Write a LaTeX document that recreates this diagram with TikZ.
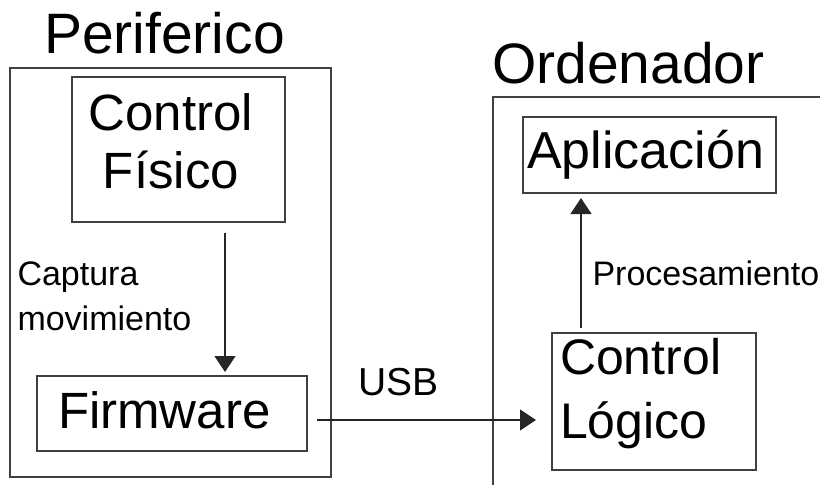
\documentclass[tikz,border=0pt]{standalone}
\usepackage{fontspec}
\setmainfont{Liberation Sans}
\usetikzlibrary{arrows.meta,calc}
\begin{document}
\begin{tikzpicture}[x=1pt,y=-1pt,
  frame/.style={draw=black!75,line width=1.1pt,inner sep=0pt,outer sep=0pt},
  lbl/.style={inner sep=0pt,outer sep=0pt,anchor=base west},
  title/.style={lbl,font=\fontsize{57}{62}\selectfont},
  big/.style={font=\fontsize{51}{58}\selectfont},
  flow/.style={draw=black!85,line width=1.1pt,-{Triangle[length=16pt,width=21pt]}}]
\useasboundingbox (0,0) rectangle (820,485);

% outer containers
\node[frame,minimum width=321,minimum height=409] (peri) at (170.5,272.5) {};
\node[frame,minimum width=357,minimum height=413,anchor=north west] (orde) at (493,97) {};

% inner blocks
\node[frame,minimum width=213,minimum height=145] (cf) at (178.5,149.5) {};
\node[frame,minimum width=270,minimum height=75] (fw) at (172,413.5) {};
\node[frame,minimum width=253,minimum height=76] (ap) at (649.5,155) {};
\node[frame,minimum width=204,minimum height=137] (cl) at (654,401.5) {};

% titles
\node[title] (tperi) at (44,53) {Periferico};
\node[title] (tord) at (492,83) {Ordenador};

% block texts (multi-line nodes sit on the baseline of their last line)
\node[big,inner sep=0pt,align=center,anchor=base] (tcf) at (171,188) {Control\\Físico};
\node[lbl,big] (tfw) at (58,428) {Firmware};
\node[lbl,font=\fontsize{52}{58}\selectfont] (tap) at (527,168) {Aplicación};
\node[lbl,font=\fontsize{50}{64}\selectfont,align=left] (tcl) at (560,438) {Control\\Lógico};

% connectors
\draw[flow] ([xshift=46.5pt,yshift=-11pt]cf.south) -- ([xshift=53pt,yshift=4pt]fw.north);
\draw[flow,shorten >=16pt] ([xshift=10pt,yshift=-6.5pt]fw.east) coordinate (u0) -- (u0 -| cl.west);
\draw[flow,shorten >=5pt] ([xshift=29pt,yshift=5pt]cl.north west) coordinate (p0) -- (p0 |- ap.south);

% connector labels
\node[lbl,font=\fontsize{34}{45}\selectfont,align=left] (tcap) at (17.5,330) {Captura\\movimiento};
\node[lbl,font=\fontsize{39}{44}\selectfont] (tusb) at (358,395) {USB};
\node[lbl,font=\fontsize{34}{40}\selectfont] (tproc) at (592.5,285) {Procesamiento};
\end{tikzpicture}
\end{document}
